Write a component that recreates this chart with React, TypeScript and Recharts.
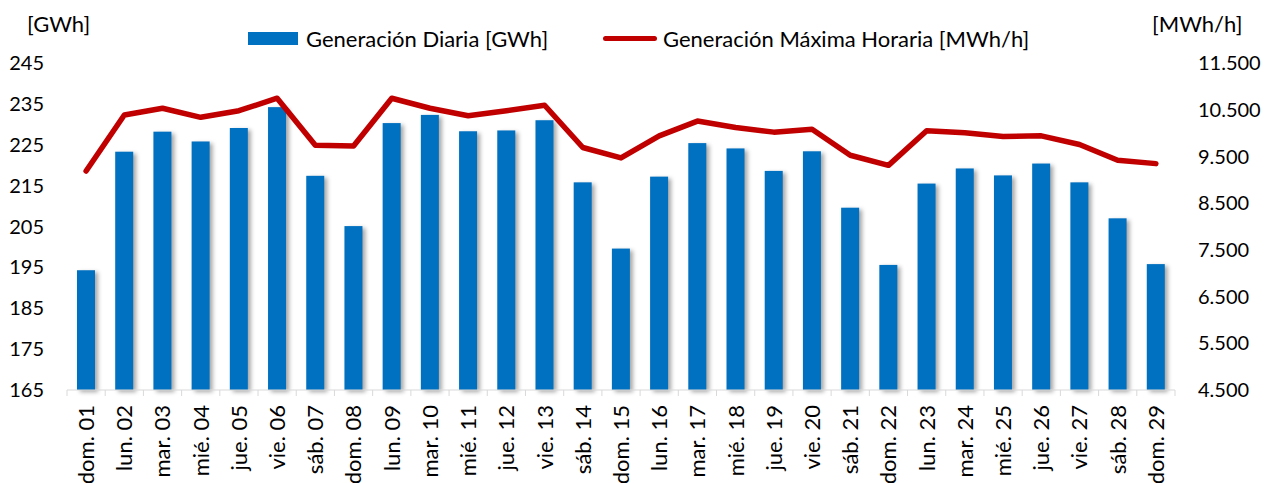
import React from "react";
import { Bar, ComposedChart, Legend, Line, XAxis, YAxis } from "recharts";

const days = [
  "dom. 01", "lun. 02", "mar. 03", "mié. 04", "jue. 05", "vie. 06", "sáb. 07",
  "dom. 08", "lun. 09", "mar. 10", "mié. 11", "jue. 12", "vie. 13", "sáb. 14",
  "dom. 15", "lun. 16", "mar. 17", "mié. 18", "jue. 19", "vie. 20", "sáb. 21",
  "dom. 22", "lun. 23", "mar. 24", "mié. 25", "jue. 26", "vie. 27", "sáb. 28",
  "dom. 29",
];

// Generación Diaria [GWh]
const dailyGWh = [
  194.3, 223.3, 228.2, 225.8, 229.1, 234.2, 217.4, 205.1, 230.3, 232.3, 228.3,
  228.5, 231.0, 215.8, 199.6, 217.2, 225.4, 224.1, 218.6, 223.4, 209.6, 195.6,
  215.5, 219.2, 217.5, 220.4, 215.8, 207.0, 195.8,
];

// Generación Máxima Horaria [MWh/h]
const maxHourlyMWh = [
  9187, 10386, 10531, 10337, 10479, 10746, 9740, 9725, 10746, 10531, 10372,
  10479, 10595, 9691, 9467, 9941, 10257, 10121, 10020, 10080, 9525, 9309,
  10048, 10005, 9927, 9941, 9755, 9417, 9346,
];

const leftTicks = [165, 175, 185, 195, 205, 215, 225, 235, 245];
const rightTicks = [4500, 5500, 6500, 7500, 8500, 9500, 10500, 11500];

const data = days.map((day, i) => ({
  day,
  daily: dailyGWh[i],
  maxHourly: maxHourlyMWh[i],
}));

const BLUE = "#0070C0";
const RED = "#C00000";
const FONT = "Lato, 'Open Sans', sans-serif";

const fmtThousands = (v: number) =>
  v >= 1000 ? `${Math.floor(v / 1000)}.${String(v % 1000).padStart(3, "0")}` : String(v);

const ShadowBar = (props: any) => {
  const { x, y, width, height } = props;
  if (!height || height <= 0) return null;
  return (
    <rect
      x={x}
      y={y}
      width={width}
      height={height}
      fill={BLUE}
      style={{ filter: "drop-shadow(3px 2px 2px rgba(0,0,0,0.35))" }}
    />
  );
};

const DayTick = (props: any) => {
  const { x, y, payload } = props;
  const band = 1108 / days.length;
  return (
    <g>
      <line x1={x + band / 2} y1={y - 8} x2={x + band / 2} y2={y - 2} stroke="#D9D9D9" />
      {payload.index === 0 && (
        <line x1={x - band / 2} y1={y - 8} x2={x - band / 2} y2={y - 2} stroke="#D9D9D9" />
      )}
      <text
        transform={`translate(${x},${y + 7}) rotate(-90)`}
        textAnchor="end"
        dy="0.36em"
        fontSize={22}
        fontFamily={FONT}
        fill="#000"
      >
        {payload.value}
      </text>
    </g>
  );
};

const LegendContent = () => (
  <div style={{ position: "relative", height: 26, fontFamily: FONT, fontSize: 22, color: "#000" }}>
    <div style={{ position: "absolute", left: 248, top: 7, width: 50, height: 13, background: BLUE }} />
    <div style={{ position: "absolute", left: 306, top: 0, whiteSpace: "nowrap" }}>
      Generación Diaria [GWh]
    </div>
    <div style={{ position: "absolute", left: 603, top: 11, width: 54, height: 5, borderRadius: 3, background: RED }} />
    <div style={{ position: "absolute", left: 663, top: 0, whiteSpace: "nowrap" }}>
      Generación Máxima Horaria [MWh/h]
    </div>
  </div>
);

export default function App() {
  return (
    <div style={{ position: "absolute", left: 0, top: 0, width: 1267, height: 483, background: "#fff" }}>
      <div style={{ position: "absolute", left: 27, top: 10, fontFamily: FONT, fontSize: 22 }}>[GWh]</div>
      <div style={{ position: "absolute", left: 1152, top: 10, fontFamily: FONT, fontSize: 22 }}>[MWh/h]</div>
      <ComposedChart
        width={1267}
        height={483}
        data={data}
        margin={{ top: 63, right: 0, bottom: 0, left: 0 }}
        barCategoryGap={0}
      >
        <XAxis
          dataKey="day"
          interval={0}
          height={93}
          axisLine={{ stroke: "#D9D9D9" }}
          tickLine={false}
          tick={<DayTick />}
        />
        <YAxis
          yAxisId="left"
          width={67}
          domain={[165, 245]}
          ticks={leftTicks}
          axisLine={false}
          tickLine={false}
          tickSize={0}
          tickMargin={23}
          tick={{ fontSize: 20, fontFamily: FONT, fill: "#000" }}
        />
        <YAxis
          yAxisId="right"
          orientation="right"
          width={92}
          domain={[4500, 11500]}
          ticks={rightTicks}
          tickFormatter={fmtThousands}
          axisLine={false}
          tickLine={false}
          tickSize={0}
          tickMargin={23}
          tick={{ fontSize: 20, fontFamily: FONT, fill: "#000" }}
        />
        <Legend
          layout="horizontal"
          verticalAlign="middle"
          align="center"
          wrapperStyle={{ top: 25, left: 0, width: 1267 }}
          content={<LegendContent />}
        />
        <Bar
          yAxisId="left"
          dataKey="daily"
          name="Generación Diaria [GWh]"
          barSize={18}
          fill={BLUE}
          shape={<ShadowBar />}
          isAnimationActive={false}
        />
        <Line
          yAxisId="right"
          dataKey="maxHourly"
          name="Generación Máxima Horaria [MWh/h]"
          type="linear"
          stroke={RED}
          strokeWidth={5.5}
          strokeLinejoin="round"
          strokeLinecap="round"
          dot={false}
          activeDot={false}
          isAnimationActive={false}
        />
      </ComposedChart>
    </div>
  );
}
